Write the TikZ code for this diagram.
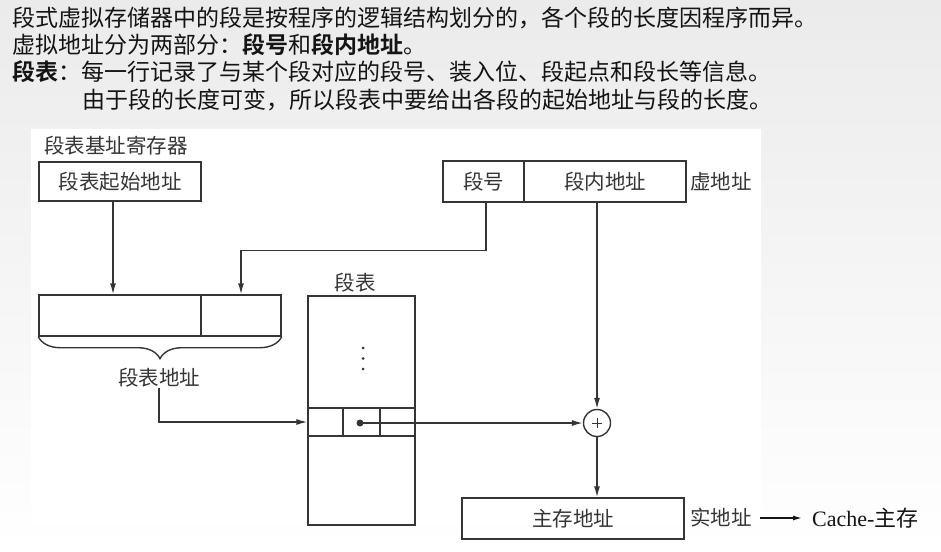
\documentclass[tikz,border=0pt]{standalone}
\usepackage{fontspec}
\setmainfont{Liberation Serif}
\newfontfamily\cjk{Noto Sans CJK SC}[BoldFont={Noto Sans CJK SC Bold}]
\usetikzlibrary{arrows.meta,decorations.pathreplacing}
\definecolor{ink}{HTML}{353535}
\definecolor{txt}{HTML}{141414}
\definecolor{bgtop}{HTML}{EBEBEB}
\begin{document}
\begin{tikzpicture}[x=1pt,y=-1pt,
  line/.style={draw=ink,line width=1.4pt},
  arr/.style={line,-{Latex[length=11pt,width=6pt]}},
  box/.style={draw=ink,line width=1.4pt,rectangle,inner sep=0pt,font=\cjk\fontsize{20.5}{24}\selectfont,text=ink},
  lbl/.style={inner sep=0pt,font=\cjk\fontsize{20.5}{24}\selectfont,text=ink},
  ttl/.style={inner sep=0pt,anchor=west,font=\cjk\fontsize{23}{28}\selectfont,text=txt}]
\useasboundingbox (0,0) rectangle (941,551);
\shade[top color=bgtop,bottom color=white] (0,0) rectangle (941,551);
\fill[white] (31,129) rectangle (761,525);
% title text
\node[ttl] (t1) at (12,18) {段式虚拟存储器中的段是按程序的逻辑结构划分的，各个段的长度因程序而异。};
\node[ttl] (t2) at (12,45) {虚拟地址分为两部分：\textbf{段号}和\textbf{段内地址}。};
\node[ttl] (t3) at (12,72) {\textbf{段表}：每一行记录了与某个段对应的段号、装入位、段起点和段长等信息。};
\node[ttl] (t4) at (82,100) {由于段的长度可变，所以段表中要给出各段的起始地址与段的长度。};
% base register
\node[lbl,anchor=west] (reglbl) at (44,146) {段表基址寄存器};
\node[box,minimum width=162pt,minimum height=39pt] (base) at (120,181.5) {段表起始地址};
% segment table address
\node[box,minimum width=162pt,minimum height=41pt] (sa) at (120,315.5) {};
\node[box,minimum width=80pt,minimum height=41pt] (sb) at (241,315.5) {};
\draw[line,decorate,decoration={brace,mirror,amplitude=22pt}] (sa.south west) -- (sb.south east);
\node[lbl] (addrlbl) at (159,378) {段表地址};
% segment table
\node[box,minimum width=107pt,minimum height=229pt] (tbl) at (361.5,410.5) {};
\node[lbl] (tbllbl) at (355,283) {段表};
\node[box,minimum width=35pt,minimum height=28pt] (c1) at (325.5,422) {};
\node[box,minimum width=37pt,minimum height=28pt] (c2) at (361.5,422) {};
\node[box,minimum width=35pt,minimum height=28pt] (c3) at (397.5,422) {};
\foreach \yy in {348,358.5,369} \fill[ink] (363,\yy) circle (1.5pt);
\fill[ink] (360,423) circle (3.5pt);
\coordinate (dot) at (360,423);
% virtual address
\node[box,minimum width=81pt,minimum height=41pt] (va1) at (483.5,181.5) {段号};
\node[box,minimum width=162pt,minimum height=41pt] (va2) at (605,181.5) {段内地址};
\node[lbl,anchor=west] (vlbl) at (690,182) {虚地址};
% adder
\node[draw=ink,line width=1.4pt,circle,minimum size=27pt,inner sep=0pt] (add) at (597,423) {};
\draw[ink,line width=0.9pt] ([xshift=-5pt]add.center) -- ([xshift=5pt]add.center)
  ([yshift=-5pt]add.center) -- ([yshift=5pt]add.center);
% main memory address
\node[box,minimum width=222pt,minimum height=41pt] (mm) at (573,518.5) {主存地址};
\node[lbl,anchor=west] (rlbl) at (690,518) {实地址};
\node[anchor=west,inner sep=0pt,font=\fontsize{22}{26}\selectfont,text=txt] (cache) at (812,518) {Cache-{\cjk 主存}};
% connectors
\draw[arr] ([xshift=-7pt]base.south) -- ([xshift=-7pt]base.south |- sa.north);
\draw[arr] ([xshift=2.5pt]va1.south) -- ++(0,48) -| (sb.north);
\draw[arr] (addrlbl.south) |- (c1.west);
\draw[arr] (dot) -- (add.west);
\draw[arr] (va2.south -| add.north) -- (add.north);
\draw[arr] (add.south) -- (add.south |- mm.north);
\draw[txt,line width=1.4pt,-{Latex[length=9pt,width=5pt]}] ([xshift=8pt]rlbl.east) -- ([xshift=-10pt]cache.west);
\end{tikzpicture}
\end{document}
